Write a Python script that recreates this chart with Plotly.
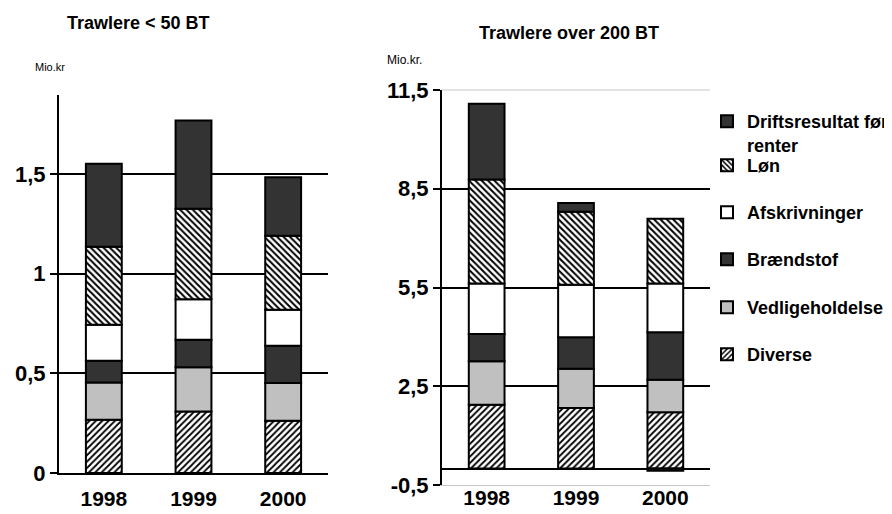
import plotly.graph_objects as go

years = ["1998", "1999", "2000"]
series_names = ["Diverse", "Vedligeholdelse", "Brændstof", "Afskrivninger", "Løn", "Driftsresultat før<br>renter"]

# Trawlere < 50 BT (Mio.kr)
small_diverse = [0.267, 0.309, 0.262]
small_vedlige = [0.187, 0.221, 0.189]
small_braend = [0.109, 0.138, 0.187]
small_afskriv = [0.181, 0.204, 0.181]
small_loen = [0.391, 0.453, 0.371]
small_drift = [0.416, 0.443, 0.294]

# Trawlere over 200 BT (Mio.kr.)
big_diverse = [1.94, 1.84, 1.71]
big_vedlige = [1.32, 1.19, 0.99]
big_braend = [0.83, 0.96, 1.44]
big_afskriv = [1.53, 1.59, 1.48]
big_loen = [3.16, 2.22, 1.97]
big_drift = [2.30, 0.27, -0.07]

left_ticks = [0, 0.5, 1, 1.5]
left_ticktext = ["0", "0,5", "1", "1,5"]
right_ticks = [-0.5, 2.5, 5.5, 8.5, 11.5]
right_ticktext = ["-0,5", "2,5", "5,5", "8,5", "11,5"]

W, H = 892, 514
OFF = 8  # page body margin
FONT = "Liberation Sans, Arial, sans-serif"
DARK = "#333333"
GRAY = "#c0c0c0"

styles = [
    dict(color="white", pattern=dict(shape="/", fgcolor="black", bgcolor="white", size=4.5, solidity=0.4)),
    dict(color=GRAY),
    dict(color=DARK),
    dict(color="white"),
    dict(color="white", pattern=dict(shape="\\", fgcolor="black", bgcolor="white", size=4.5, solidity=0.45)),
    dict(color=DARK),
]

small = [small_diverse, small_vedlige, small_braend, small_afskriv, small_loen, small_drift]
big = [big_diverse, big_vedlige, big_braend, big_afskriv, big_loen, big_drift]

fig = go.Figure()
legend_ids = ["legend6", "legend5", "legend4", "legend3", "legend2", "legend"]
for i, name in enumerate(series_names):
    mk = dict(styles[i])
    mk["line"] = dict(color="black", width=2)
    fig.add_trace(go.Bar(x=years, y=small[i], name=name, marker=mk, xaxis="x", yaxis="y",
                         legend=legend_ids[i], showlegend=True))
    fig.add_trace(go.Bar(x=years, y=big[i], name=name, marker=mk, xaxis="x2", yaxis="y2",
                         showlegend=False))

def px_x(p):
    return (p - OFF) / W

def px_y(p):
    return 1 - (p - OFF) / H

tickfont = dict(family=FONT, size=22, color="black", weight="bold")
xtickfont = dict(family=FONT, size=21, color="black", weight="bold")

layout = dict(
    template="none",
    width=W, height=H, autosize=False,
    margin=dict(l=0, r=0, t=0, b=0, autoexpand=False),
    paper_bgcolor="white", plot_bgcolor="white",
    barmode="relative", bargap=0.6,
    separators=",.",
    font=dict(family=FONT, color="black"),
    xaxis=dict(domain=[px_x(59), px_x(328)], type="category", showgrid=False, automargin=False,
               showline=True, linecolor="black", linewidth=2, ticks="",
               tickfont=xtickfont, ticklabelstandoff=6, anchor="y", fixedrange=True),
    yaxis=dict(domain=[px_y(473), px_y(95)], range=[0, 1.896], tickvals=left_ticks, automargin=False,
               ticktext=left_ticktext, showgrid=True, gridcolor="black", gridwidth=2,
               zeroline=False, showline=True, linecolor="black", linewidth=2,
               ticks="outside", ticklen=7, tickwidth=2, tickcolor="black",
               tickfont=tickfont, anchor="x"),
    xaxis2=dict(domain=[px_x(442), px_x(710)], type="category", showgrid=False, automargin=False,
                showline=True, linecolor="#c8c8c8", linewidth=1, ticks="",
                tickfont=xtickfont, ticklabelstandoff=-6, anchor="y2"),
    yaxis2=dict(domain=[px_y(485), px_y(90)], range=[-0.5, 11.5], tickvals=right_ticks, automargin=False,
                ticktext=right_ticktext, showgrid=False,
                minor=dict(tickvals=[2.5, 5.5, 8.5], showgrid=True, gridcolor="black",
                           gridwidth=2, ticks=""),
                zeroline=True, zerolinecolor="black", zerolinewidth=2,
                showline=True, linecolor="black", linewidth=2,
                ticks="outside", ticklen=7, tickwidth=2, tickcolor="black",
                tickfont=tickfont, anchor="x2"),
    shapes=[dict(type="line", xref="x2 domain", yref="y2 domain", x0=0, x1=1, y0=1, y1=1,
                 line=dict(color="#c8c8c8", width=1), layer="below")],
    annotations=[
        dict(text="Trawlere < 50 BT", x=px_x(138), y=px_y(23), xref="paper", yref="paper",
             xanchor="center", yanchor="middle",
             showarrow=False, font=dict(family=FONT, size=18, weight="bold")),
        dict(text="Trawlere over 200 BT", x=px_x(569), y=px_y(33), xref="paper", yref="paper",
             xanchor="center", yanchor="middle",
             showarrow=False, font=dict(family=FONT, size=18, weight="bold")),
        dict(text="Mio.kr", x=px_x(33), y=px_y(67), xref="paper", yref="paper", xanchor="left",
             yanchor="middle", showarrow=False, font=dict(family=FONT, size=11)),
        dict(text="Mio.kr.", x=px_x(385), y=px_y(60), xref="paper", yref="paper", xanchor="left",
             yanchor="middle", showarrow=False, font=dict(family=FONT, size=12)),
    ],
)

legend_centers = {"legend": 122, "legend2": 166, "legend3": 213, "legend4": 260, "legend5": 308, "legend6": 355}
for lid, yc in legend_centers.items():
    d = dict(x=px_x(707), xanchor="left", y=px_y(yc - 19), yanchor="top",
             bgcolor="rgba(0,0,0,0)", borderwidth=0, itemwidth=30,
             font=dict(family=FONT, size=18, color="black", weight="bold"),
             valign="top", itemclick=False, itemdoubleclick=False)
    layout[lid] = d

fig.update_layout(**layout)
fig.write_html("out.html")
